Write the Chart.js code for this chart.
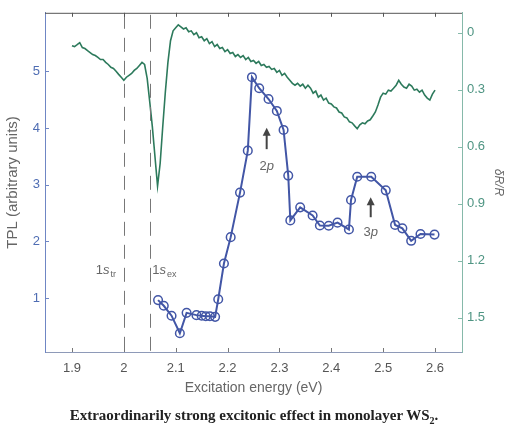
<!DOCTYPE html>
<html>
<head>
<meta charset="utf-8">
<script src="https://cdn.jsdelivr.net/npm/chart.js@4/dist/chart.umd.min.js"></script>
<style>
  html, body { margin: 0; padding: 0; background: #fff; }
  #wrap { position: relative; width: 508px; height: 425px; overflow: hidden; }
  #caption { position: absolute; left: 0; width: 508px; top: 407px; text-align: center; line-height: 17px;
    font-family: "Liberation Serif", "Times New Roman", serif; font-weight: bold; font-size: 15px; color: #222; }
  #caption sub { font-size: 10px; line-height: 0; }
</style>
</head>
<body>
<div id="wrap">
  <canvas id="c" width="508" height="425"></canvas>
  <div id="caption">Extraordinarily strong excitonic effect in monolayer WS<sub>2</sub>.</div>
</div>
<script>
// ---- Data ----
const tplEnergy = [2.066, 2.077, 2.092, 2.108, 2.121, 2.140, 2.150, 2.158, 2.166, 2.176,
  2.182, 2.193, 2.206, 2.224, 2.239, 2.247, 2.261, 2.279, 2.295, 2.308,
  2.317, 2.321, 2.340, 2.364, 2.378, 2.395, 2.412, 2.434, 2.438, 2.450,
  2.477, 2.505, 2.523, 2.537, 2.554, 2.572, 2.599];
const tplValues = [0.965, 0.865, 0.69, 0.38, 0.74, 0.70, 0.69, 0.68, 0.68, 0.67,
  0.98, 1.61, 2.075, 2.86, 3.60, 4.895, 4.70, 4.51, 4.30, 3.965,
  3.16, 2.37, 2.60, 2.456, 2.28, 2.275, 2.33, 2.21, 2.73, 3.14,
  3.14, 2.90, 2.29, 2.23, 2.01, 2.13, 2.12];

const reflEnergy = [1.900,1.905,1.910,1.915,1.920,1.925,1.930,1.935,1.940,1.945,
  1.950,1.955,1.960,1.965,1.970,1.975,1.980,1.985,1.990,1.995,
  2.000,2.005,2.010,2.015,2.020,2.025,2.030,2.035,2.040,2.045,
  2.050,2.055,2.060,2.065,2.070,2.075,2.080,2.085,2.090,2.095,
  2.100,2.105,2.110,2.115,2.120,2.125,2.130,2.135,2.140,2.145,
  2.150,2.155,2.160,2.165,2.170,2.175,2.180,2.185,2.190,2.195,
  2.200,2.205,2.210,2.215,2.220,2.225,2.230,2.235,2.240,2.245,
  2.250,2.255,2.260,2.265,2.270,2.275,2.280,2.285,2.290,2.295,
  2.300,2.305,2.310,2.315,2.320,2.325,2.330,2.335,2.340,2.345,
  2.350,2.355,2.360,2.365,2.370,2.375,2.380,2.385,2.390,2.395,
  2.400,2.405,2.410,2.415,2.420,2.425,2.430,2.435,2.440,2.445,
  2.450,2.455,2.460,2.465,2.470,2.475,2.480,2.485,2.490,2.495,
  2.500,2.505,2.510,2.515,2.520,2.525,2.530,2.535,2.540,2.545,
  2.550,2.555,2.560,2.565,2.570,2.575,2.580,2.585,2.590,2.595,2.600];
const reflValues = [0.068,0.073,0.063,0.052,0.078,0.083,0.094,0.104,0.115,0.120,
  0.130,0.141,0.141,0.156,0.167,0.182,0.188,0.203,0.219,0.234,
  0.250,0.234,0.224,0.214,0.198,0.188,0.172,0.156,0.167,0.240,
  0.365,0.495,0.651,0.807,0.688,0.495,0.313,0.156,0.042,-0.010,
  -0.026,-0.042,-0.031,-0.020,-0.026,-0.005,-0.010,0.010,0.000,0.026,
  0.021,0.042,0.031,0.057,0.047,0.073,0.062,0.083,0.078,0.099,
  0.089,0.109,0.104,0.125,0.115,0.130,0.120,0.141,0.130,0.151,
  0.146,0.161,0.151,0.172,0.167,0.182,0.177,0.193,0.188,0.208,
  0.198,0.224,0.214,0.234,0.250,0.266,0.276,0.266,0.281,0.271,
  0.292,0.276,0.292,0.318,0.307,0.339,0.328,0.354,0.344,0.370,
  0.375,0.390,0.396,0.417,0.422,0.443,0.448,0.469,0.474,0.490,
  0.505,0.485,0.474,0.479,0.464,0.458,0.438,0.417,0.380,0.339,
  0.318,0.323,0.302,0.307,0.292,0.276,0.250,0.271,0.286,0.292,
  0.271,0.281,0.302,0.297,0.313,0.302,0.328,0.344,0.354,0.323,0.302];

const xTickValues = [1.9, 2.0, 2.1, 2.2, 2.3, 2.4, 2.5, 2.6];
const xTickLabels = ['1.9', '2', '2.1', '2.2', '2.3', '2.4', '2.5', '2.6'];
const yTickValues = [1, 2, 3, 4, 5];
const y2TickValues = [0, 0.3, 0.6, 0.9, 1.2, 1.5];
const y2TickLabels = ['0', '0.3', '0.6', '0.9', '1.2', '1.5'];
const markerEnergies = [2.0, 2.05];
const arrowNotes = [
  { x: 2.2754, yFrom: 3.626, yTo: 4.005, num: '2', ital: 'p', labelY: 3.316 },
  { x: 2.476, yFrom: 2.426, yTo: 2.777, num: '3', ital: 'p', labelY: 2.163 }
];

// ---- Styles ----
const BLUE = '#4256a6';
const GREEN = '#2d7a5c';
const BLUE_AXIS = '#6f86c4';
const GREEN_AXIS = '#86b9aa';
const GRAY = '#666';
const SANS = '"Liberation Sans", Arial, sans-serif';

const decor = {
  id: 'decor',
  afterDatasetsDraw(chart) {
    const { ctx, chartArea: a, scales } = chart;
    const xs = scales.x, ys = scales.y, y2 = scales.y2;
    ctx.save();
    // dashed markers
    ctx.strokeStyle = '#777'; ctx.lineWidth = 1; ctx.setLineDash([14, 9]);
    markerEnergies.forEach(e => {
      const px = Math.round(xs.getPixelForValue(e)) + 0.5;
      ctx.beginPath(); ctx.moveTo(px, a.top + 2); ctx.lineTo(px, a.bottom); ctx.stroke();
    });
    ctx.setLineDash([]);
    // top border
    ctx.strokeStyle = '#555'; ctx.lineWidth = 1;
    ctx.beginPath(); ctx.moveTo(a.left, a.top + 0.5); ctx.lineTo(a.right, a.top + 0.5); ctx.stroke();
    // x ticks (top & bottom, inward)
    xTickValues.forEach(v => {
      const px = Math.round(xs.getPixelForValue(v)) + 0.5;
      ctx.strokeStyle = '#555';
      ctx.beginPath(); ctx.moveTo(px, a.top); ctx.lineTo(px, a.top + 4); ctx.stroke();
      ctx.strokeStyle = '#777';
      ctx.beginPath(); ctx.moveTo(px, a.bottom); ctx.lineTo(px, a.bottom - 4); ctx.stroke();
    });
    // left ticks
    ctx.strokeStyle = BLUE_AXIS;
    yTickValues.forEach(v => {
      const py = Math.round(ys.getPixelForValue(v)) + 0.5;
      ctx.beginPath(); ctx.moveTo(a.left, py); ctx.lineTo(a.left + 4, py); ctx.stroke();
    });
    // right ticks
    ctx.strokeStyle = GREEN_AXIS;
    y2TickValues.forEach(v => {
      const py = Math.round(y2.getPixelForValue(v)) + 0.5;
      ctx.beginPath(); ctx.moveTo(a.right, py); ctx.lineTo(a.right - 4, py); ctx.stroke();
    });
    // arrows and labels
    arrowNotes.forEach(n => {
      const px = xs.getPixelForValue(n.x);
      const pb = ys.getPixelForValue(n.yFrom), pt = ys.getPixelForValue(n.yTo);
      ctx.strokeStyle = '#444'; ctx.fillStyle = '#444'; ctx.lineWidth = 2;
      ctx.beginPath(); ctx.moveTo(px, pb); ctx.lineTo(px, pt + 6); ctx.stroke();
      ctx.beginPath(); ctx.moveTo(px, pt); ctx.lineTo(px - 4, pt + 8); ctx.lineTo(px + 4, pt + 8); ctx.closePath(); ctx.fill();
      const ly = ys.getPixelForValue(n.labelY);
      ctx.fillStyle = GRAY; ctx.textBaseline = 'middle';
      const f1 = '13px ' + SANS, f2 = 'italic 13px ' + SANS;
      ctx.font = f1; const w1 = ctx.measureText(n.num).width;
      ctx.font = f2; const w2 = ctx.measureText(n.ital).width;
      const x0 = px - (w1 + w2) / 2;
      ctx.textAlign = 'left';
      ctx.font = f1; ctx.fillText(n.num, x0, ly);
      ctx.font = f2; ctx.fillText(n.ital, x0 + w1, ly);
    });
    // 1s labels
    const drawLabel = (anchorX, anchorY, sub, alignRight) => {
      ctx.fillStyle = GRAY; ctx.textBaseline = 'alphabetic'; ctx.textAlign = 'left';
      const f1 = '13px ' + SANS;
      const f2 = 'italic 13px ' + SANS;
      const f3 = '9px ' + SANS;
      ctx.font = f1; const w1 = ctx.measureText('1').width;
      ctx.font = f2; const w2 = ctx.measureText('s').width;
      ctx.font = f3; const w3 = ctx.measureText(sub).width;
      let x = alignRight ? anchorX - (w1 + w2 + w3 + 1) : anchorX;
      ctx.font = f1; ctx.fillText('1', x, anchorY); x += w1;
      ctx.font = f2; ctx.fillText('s', x, anchorY); x += w2 + 1;
      ctx.font = f3; ctx.fillText(sub, x, anchorY + 3);
    };
    const ly = ys.getPixelForValue(1.42);
    drawLabel(xs.getPixelForValue(1.985), ly, 'tr', true);
    drawLabel(xs.getPixelForValue(2.055), ly, 'ex', false);
    ctx.restore();
  }
};

const noGrid = { display: true, drawOnChartArea: false, drawTicks: false, tickLength: 0 };

new Chart(document.getElementById('c'), {
  type: 'line',
  data: {
    datasets: [
      {
        label: 'δR/R',
        data: reflEnergy.map((e, i) => ({ x: e, y: reflValues[i] })),
        yAxisID: 'y2',
        borderColor: GREEN,
        borderWidth: 1.6,
        pointRadius: 0,
        tension: 0
      },
      {
        label: 'TPL',
        data: tplEnergy.map((e, i) => ({ x: e, y: tplValues[i] })),
        yAxisID: 'y',
        borderColor: BLUE,
        borderWidth: 2,
        pointRadius: 4.3,
        pointBorderWidth: 1.5,
        pointBorderColor: BLUE,
        pointBackgroundColor: 'rgba(0,0,0,0)',
        tension: 0
      }
    ]
  },
  options: {
    responsive: false,
    animation: false,
    layout: { padding: { top: 11, left: 0, right: 0, bottom: 0 } },
    plugins: { legend: { display: false }, tooltip: { enabled: false } },
    scales: {
      x: {
        type: 'linear',
        min: 1.848, max: 2.652,
        afterBuildTicks: s => { s.ticks = xTickValues.map(v => ({ value: v })); },
        afterFit: s => { s.height = 73; },
        grid: noGrid,
        border: { display: true, color: '#8e9ab8', width: 1 },
        ticks: {
          padding: 9, color: '#555', maxRotation: 0, autoSkip: false,
          font: { family: SANS, size: 13 },
          callback: (v) => { const i = xTickValues.findIndex(t => Math.abs(t - v) < 1e-6); return i >= 0 ? xTickLabels[i] : ''; }
        },
        title: {
          display: true, text: 'Excitation energy (eV)', color: '#666',
          font: { family: SANS, size: 14 },
          padding: { top: 0, bottom: 28 }
        }
      },
      y: {
        position: 'left',
        min: 0.05, max: 6.03,
        afterBuildTicks: s => { s.ticks = yTickValues.map(v => ({ value: v })); },
        afterFit: s => { s.width = 45; },
        grid: noGrid,
        border: { display: true, color: BLUE_AXIS, width: 1 },
        ticks: {
          padding: 5, color: '#4f6db3',
          font: { family: SANS, size: 13 }
        },
        title: {
          display: true, text: 'TPL (arbitrary units)', color: '#666',
          font: { family: SANS, size: 15 },
          padding: { top: 4, bottom: 0 }
        }
      },
      y2: {
        position: 'right',
        reverse: true,
        min: -0.105, max: 1.68,
        afterBuildTicks: s => { s.ticks = y2TickValues.map(v => ({ value: v })); },
        afterFit: s => { s.width = 46; },
        grid: noGrid,
        border: { display: true, color: GREEN_AXIS, width: 1 },
        ticks: {
          padding: 5, color: '#4f9583',
          font: { family: SANS, size: 13 },
          callback: (v) => { const i = y2TickValues.findIndex(t => Math.abs(t - v) < 1e-6); return i >= 0 ? y2TickLabels[i] : ''; }
        },
        title: {
          display: true, text: 'δR/R', color: '#666',
          font: { family: SANS, size: 12, style: 'italic' },
          padding: { top: 2, bottom: 0 }
        }
      }
    }
  },
  plugins: [decor]
});
</script>
</body>
</html>
